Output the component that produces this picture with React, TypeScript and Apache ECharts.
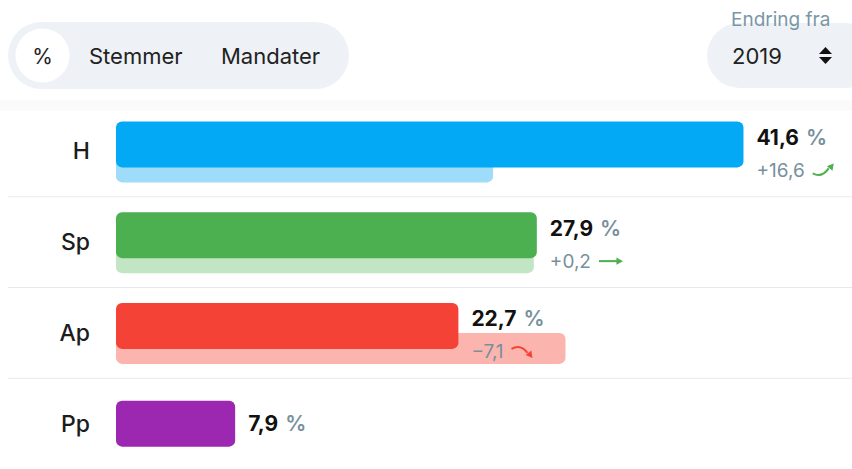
import React, { useEffect, useRef } from "react";
import * as echarts from "echarts";

const parties = ["H", "Sp", "Ap", "Pp"];
const shares = [41.6, 27.9, 22.7, 7.9];
const changes: (number | null)[] = [16.6, 0.2, -7.1, null];
const modes = ["%", "Stemmer", "Mandater"];
const compareLabel = "Endring fra";
const compareYear = "2019";

const mainColors = ["#03a9f4", "#4caf50", "#f44336", "#9c27b0"];
const lightColors = ["#9edcf9", "#c2e5c3", "#fbb4ae", "#d8a8e0"];

const FONT = "Inter, 'Noto Sans', sans-serif";
const GREY = "#78909c";
const CHANGE_SIZE = 19;

const fmt = (v: number) => v.toFixed(1).replace(".", ",");
const fmtChange = (v: number) => (v >= 0 ? "+" : "\u2212") + Math.abs(v).toFixed(1).replace(".", ",");

let ctx: CanvasRenderingContext2D | null = null;
function measure(text: string, font: string) {
  if (!ctx) ctx = document.createElement("canvas").getContext("2d");
  if (!ctx) return text.length * 9;
  ctx.font = font;
  return ctx.measureText(text).width;
}

function arrowHead(tipX: number, tipY: number, dx: number, dy: number, color: string) {
  const len = Math.hypot(dx, dy);
  const ux = dx / len, uy = dy / len;
  const px = -uy, py = ux;
  const bx = tipX - ux * 6.5, by = tipY - uy * 6.5;
  return {
    type: "polygon",
    shape: { points: [[tipX, tipY], [bx + px * 3.6, by + py * 3.6], [bx - px * 3.6, by - py * 3.6]] },
    style: { fill: color },
  };
}

function arrow(ax: number, cy: number, change: number) {
  const els: any[] = [];
  if (Math.abs(change) < 1) {
    const c = "#4caf50";
    els.push({ type: "line", shape: { x1: ax, y1: cy, x2: ax + 18, y2: cy }, style: { stroke: c, lineWidth: 2 } });
    els.push(arrowHead(ax + 24, cy, 1, 0, c));
  } else if (change > 0) {
    const c = "#4caf50";
    els.push({ type: "bezierCurve", shape: { x1: ax, y1: cy + 3, cpx1: ax + 9, cpy1: cy + 8, x2: ax + 16, y2: cy - 2 }, style: { stroke: c, lineWidth: 2, fill: null } });
    els.push(arrowHead(ax + 21, cy - 7, 7, -9, c));
  } else {
    const c = "#f44336";
    els.push({ type: "bezierCurve", shape: { x1: ax, y1: cy - 3, cpx1: ax + 9, cpy1: cy - 8, x2: ax + 16, y2: cy + 1 }, style: { stroke: c, lineWidth: 2, fill: null } });
    els.push(arrowHead(ax + 21, cy + 6, 7, 9, c));
  }
  return els;
}

export default function App() {
  const ref = useRef<HTMLDivElement>(null);
  useEffect(() => {
    document.body.style.margin = "0";
    if (!ref.current) return;
    const chart = echarts.init(ref.current, null, { renderer: "svg" });

    const renderItem = (params: any, api: any) => {
      const idx = params.dataIndex;
      const share = shares[idx];
      const change = changes[idx];
      const [x0, yc] = api.coord([0, idx]);
      const band = api.size([0, 1])[1];
      const hasPrev = change !== null;
      const mainTop = hasPrev ? yc - 30 : yc - 23;
      const mainEnd = api.coord([share, idx])[0];
      const children: any[] = [];
      if (idx > 0) {
        children.push({
          type: "line",
          shape: { x1: 8, y1: yc - band / 2, x2: 852, y2: yc - band / 2 },
          style: { stroke: "#e6eaf0", lineWidth: 1 },
        });
      }
      if (hasPrev) {
        const prevEnd = api.coord([share - (change as number), idx])[0];
        children.push({
          type: "rect",
          shape: { x: x0, y: mainTop + 30, width: prevEnd - x0, height: 31, r: 6 },
          style: { fill: lightColors[idx] },
        });
      }
      children.push({
        type: "rect",
        shape: { x: x0, y: mainTop, width: mainEnd - x0, height: 46, r: 6 },
        style: { fill: mainColors[idx] },
      });
      const lx = mainEnd + 13;
      children.push({
        type: "text",
        x: lx,
        y: hasPrev ? mainTop + 16 : yc,
        style: {
          text: `{v|${fmt(share)}}{p|%}`,
          verticalAlign: "middle",
          align: "left",
          rich: {
            v: { fontSize: 21, fontWeight: 700, fontFamily: FONT, fill: "#111111" },
            p: { fontSize: 21, fontWeight: 600, fontFamily: FONT, fill: GREY, padding: [0, 0, 0, 7] },
          },
          fontFamily: FONT,
          fontSize: 21,
        },
      });
      if (hasPrev) {
        const ct = fmtChange(change as number);
        const cy = mainTop + 49;
        children.push({
          type: "text",
          x: lx,
          y: cy,
          style: {
            text: ct,
            fontSize: CHANGE_SIZE,
            fontFamily: FONT,
            fontWeight: 400,
            fill: GREY,
            verticalAlign: "middle",
            align: "left",
          },
        });
        const w = measure(ct, `400 ${CHANGE_SIZE}px ${FONT}`);
        children.push(...arrow(lx + w + 8, cy, change as number));
      }
      return { type: "group", children };
    };

    const graphic: any[] = [
      { type: "rect", shape: { x: 0, y: 100, width: 852, height: 11 }, style: { fill: "rgba(0,0,0,0.018)" }, silent: true },
      { type: "rect", shape: { x: 8, y: 22, width: 341, height: 67, r: 33.5 }, style: { fill: "#eef2f6" } },
      { type: "circle", shape: { cx: 42.5, cy: 55.5, r: 27 }, style: { fill: "#ffffff" } },
      { type: "text", x: 42.5, y: 56, style: { text: modes[0], fontSize: 21, fontFamily: FONT, fill: "#222", align: "center", verticalAlign: "middle" } },
      { type: "text", x: 89, y: 56, style: { text: modes[1], fontSize: 22, fontFamily: FONT, fill: "#222", align: "left", verticalAlign: "middle" } },
      { type: "text", x: 221, y: 56, style: { text: modes[2], fontSize: 22, fontFamily: FONT, fill: "#222", align: "left", verticalAlign: "middle" } },
      { type: "rect", shape: { x: 707, y: 23, width: 170, height: 65, r: 32.5 }, style: { fill: "#eef2f6" } },
      { type: "text", x: 731, y: 19, style: { text: compareLabel, fontSize: 19, fontFamily: FONT, fill: "#7a97a6", align: "left", verticalAlign: "middle" } },
      { type: "text", x: 732, y: 56, style: { text: compareYear, fontSize: 22, fontFamily: FONT, fill: "#222", align: "left", verticalAlign: "middle" } },
      { type: "polygon", shape: { points: [[819, 54], [825.5, 47], [832, 54]] }, style: { fill: "#111" } },
      { type: "polygon", shape: { points: [[819, 57], [832, 57], [825.5, 64]] }, style: { fill: "#111" } },
    ];

    chart.setOption({
      animation: false,
      grid: { left: 116, width: 724, top: 106, height: 368 },
      xAxis: { type: "value", min: 0, max: 48, show: false },
      yAxis: {
        type: "category",
        inverse: true,
        data: parties,
        axisLine: { show: false },
        axisTick: { show: false },
        splitLine: { show: false },
        axisLabel: { margin: 26, fontSize: 23, fontFamily: FONT, fontWeight: 500, color: "#1c1c1c" },
      },
      graphic,
      series: [
        {
          type: "custom",
          renderItem,
          encode: { x: 0, y: 1 },
          data: parties.map((p, i) => [shares[i], i]),
          clip: false,
        },
      ],
    });
    return () => chart.dispose();
  }, []);
  return <div ref={ref} style={{ width: 852, height: 469 }} />;
}
